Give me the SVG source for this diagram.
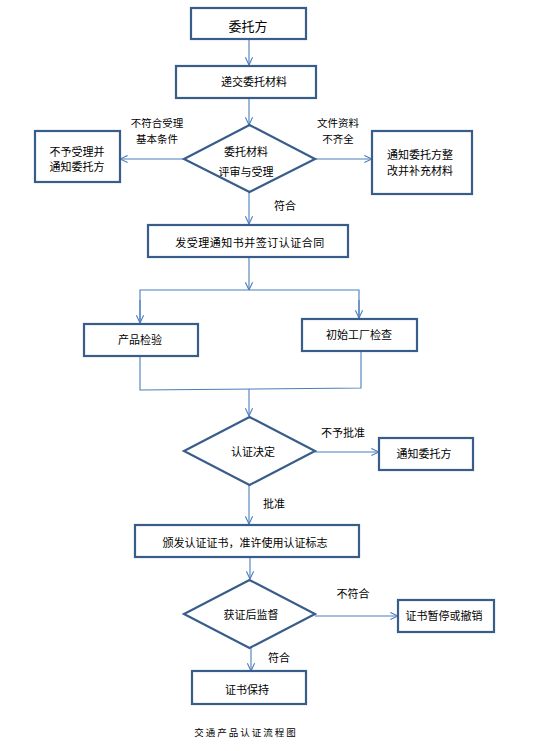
<svg xmlns="http://www.w3.org/2000/svg" width="536" height="751" viewBox="0 0 536 751">
<defs>
<marker id="arr" viewBox="0 0 10 10" refX="9.5" refY="5" markerWidth="9" markerHeight="9" markerUnits="userSpaceOnUse" orient="auto">
<path d="M1,1 L9.5,5 L1,9" fill="none" stroke="#4A7EBB" stroke-width="1.2"/>
</marker>
</defs>
<style>
.box{fill:#fff;stroke:#385D8A;stroke-width:2.2}
.t{font-family:"Noto Sans CJK SC","Noto Sans",sans-serif;font-size:11px;fill:#000;text-anchor:middle;dominant-baseline:central}
.s{font-size:10.5px}
.c{fill:none;stroke:#4A7EBB;stroke-width:1.1}
.a{marker-end:url(#arr)}
</style>
<rect width="536" height="751" fill="#fff"/>
<g id="connectors">
<line class="c a" x1="249" y1="39" x2="249" y2="65"/>
<line class="c a" x1="249" y1="98" x2="249" y2="125"/>
<line class="c a" x1="184" y1="159" x2="120" y2="159"/>
<line class="c a" x1="315" y1="159" x2="372" y2="159"/>
<line class="c a" x1="249" y1="192" x2="249" y2="224"/>
<line class="c a" x1="249" y1="257" x2="249" y2="290"/>
<polyline class="c" points="140,321 140,290 359,290 359,319"/>
<line class="c a" x1="140" y1="300" x2="140" y2="323"/>
<line class="c a" x1="359" y1="300" x2="359" y2="318"/>
<polyline class="c" points="140,356 140,390 361,388 361,351"/>
<line class="c a" x1="249" y1="389" x2="249" y2="416"/>
<line class="c a" x1="315" y1="452" x2="379" y2="452"/>
<line class="c a" x1="249" y1="485" x2="249" y2="524"/>
<line class="c a" x1="250" y1="557" x2="250" y2="579"/>
<line class="c a" x1="315" y1="616" x2="398" y2="616"/>
<line class="c a" x1="251" y1="648" x2="251" y2="671"/>
<text class="t s" x="157" y="122">不符合受理</text>
<text class="t s" x="157" y="138">基本条件</text>
<text class="t s" x="338" y="122">文件资料</text>
<text class="t s" x="338" y="138">不齐全</text>
<text class="t" x="285" y="205">符合</text>
<text class="t" x="343" y="432">不予批准</text>
<text class="t" x="274" y="503">批准</text>
<text class="t" x="353" y="593">不符合</text>
<text class="t" x="279" y="657">符合</text>
</g>
<g id="n1"><rect class="box" x="191" y="8" width="115" height="31"/><text class="t" x="248" y="25" style="font-size:13px">委托方</text></g>
<g id="n2"><rect class="box" x="176" y="66" width="140" height="32"/><text class="t" x="254" y="81">递交委托材料</text></g>
<g id="n3"><polygon class="box" points="249.5,125 315,159 249.5,192 184,159"/><text class="t" x="246" y="151">委托材料</text><text class="t" x="246" y="171">评审与受理</text></g>
<g id="n4"><rect class="box" x="35" y="131" width="85" height="51"/><text class="t" x="77" y="151">不予受理并</text><text class="t" x="77" y="166">通知委托方</text></g>
<g id="n5"><rect class="box" x="372" y="131" width="100" height="63"/><text class="t" x="420" y="154">通知委托方整</text><text class="t" x="420" y="170">改并补充材料</text></g>
<g id="n6"><rect class="box" x="148" y="225" width="200" height="32"/><text class="t" x="250" y="242" style="letter-spacing:0.5px">发受理通知书并签订认证合同</text></g>
<g id="n7"><rect class="box" x="84" y="324" width="114" height="32"/><text class="t" x="140" y="339">产品检验</text></g>
<g id="n8"><rect class="box" x="302" y="319" width="115" height="32"/><text class="t" x="359" y="334">初始工厂检查</text></g>
<g id="n9"><polygon class="box" points="249.5,417 315,451 249.5,485 184,451"/><text class="t" x="253" y="451">认证决定</text></g>
<g id="n10"><rect class="box" x="379" y="438" width="94" height="32"/><text class="t" x="424" y="453">通知委托方</text></g>
<g id="n11"><rect class="box" x="135" y="525" width="224" height="32"/><text class="t" x="245" y="542">颁发认证证书，准许使用认证标志</text></g>
<g id="n12"><polygon class="box" points="249.5,580 315,614 249.5,648 184,614"/><text class="t" x="251" y="614">获证后监督</text></g>
<g id="n13"><rect class="box" x="398" y="600" width="96" height="32"/><text class="t" x="444" y="615">证书暂停或撤销</text></g>
<g id="n14"><rect class="box" x="192" y="671" width="114" height="33"/><text class="t" x="247" y="689">证书保持</text></g>
<text class="t" x="246" y="732" style="font-size:9.5px;letter-spacing:2px">交通产品认证流程图</text>
</svg>
